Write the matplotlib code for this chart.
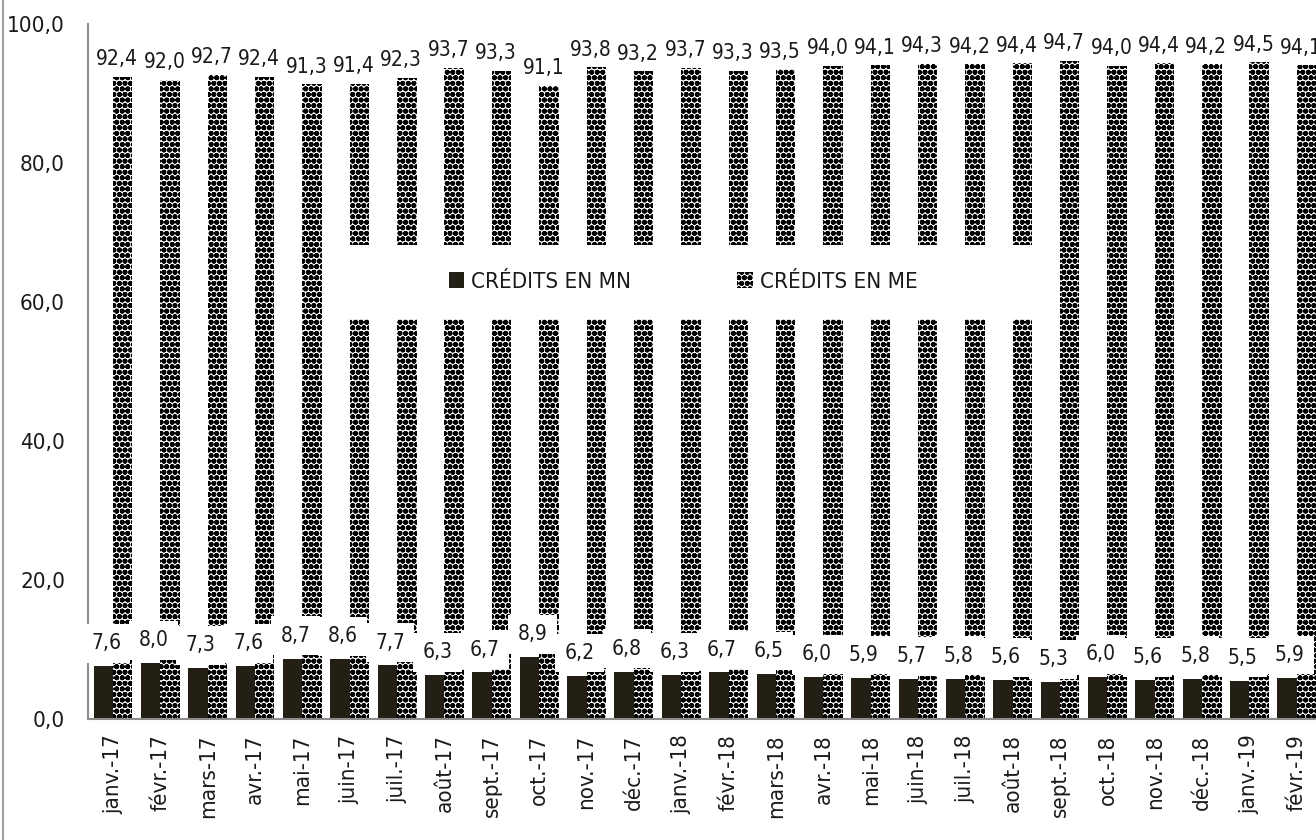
import matplotlib
matplotlib.use("Agg")
import matplotlib.pyplot as plt
from matplotlib.patches import Rectangle, Patch
from matplotlib.lines import Line2D
from matplotlib import font_manager as fm
import numpy as np
import os

months = ['janv.-17', 'févr.-17', 'mars-17', 'avr.-17', 'mai-17', 'juin-17', 'juil.-17',
          'août-17', 'sept.-17', 'oct.-17', 'nov.-17', 'déc.-17', 'janv.-18', 'févr.-18',
          'mars-18', 'avr.-18', 'mai-18', 'juin-18', 'juil.-18', 'août-18', 'sept.-18',
          'oct.-18', 'nov.-18', 'déc.-18', 'janv.-19', 'févr.-19']
credits_mn = [7.6, 8.0, 7.3, 7.6, 8.7, 8.6, 7.7, 6.3, 6.7, 8.9, 6.2, 6.8, 6.3, 6.7,
              6.5, 6.0, 5.9, 5.7, 5.8, 5.6, 5.3, 6.0, 5.6, 5.8, 5.5, 5.9]
credits_me = [92.4, 92.0, 92.7, 92.4, 91.3, 91.4, 92.3, 93.7, 93.3, 91.1, 93.8, 93.2, 93.7, 93.3,
              93.5, 94.0, 94.1, 94.3, 94.2, 94.4, 94.7, 94.0, 94.4, 94.2, 94.5, 94.1]
series_names = ['CRÉDITS EN MN', 'CRÉDITS EN ME']
y_ticks = [0, 20, 40, 60, 80, 100]

# pick a narrow / condensed sans font if one is installed
def pick_font():
    files = [f.fname for f in fm.fontManager.ttflist]
    prefs = ['LiberationSansNarrow-Regular', 'DejaVuSansCondensed.ttf',
             'RobotoCondensed-Regular', 'OpenSans_Condensed-Regular', 'OpenSansCondensed',
             'NotoSans-Condensed.ttf', 'NotoSansCondensed-Regular']
    for p in prefs:
        for fn in files:
            if p.lower() in os.path.basename(fn).lower():
                return fm.FontProperties(fname=fn), 16, 15
    for fn in files:
        b = os.path.basename(fn).lower()
        if ('narrow' in b or 'condensed' in b) and 'bold' not in b and 'italic' not in b \
                and 'oblique' not in b and 'light' not in b and 'thin' not in b \
                and 'black' not in b and 'medium' not in b and 'semi' not in b:
            return fm.FontProperties(fname=fn), 16, 15
    return fm.FontProperties(family=['Liberation Sans', 'DejaVu Sans']), 14, 13.5

base_fp, FS, FS_LAB = pick_font()

def fp(size=FS):
    p = base_fp.copy()
    p.set_size(size)
    return p

plt.rcParams['hatch.linewidth'] = 1.9

W, H = 1316, 840
fig = plt.figure(figsize=(W / 100, H / 100), dpi=100)

def fx(px):
    return px / W

def fy(py):
    return 1 - py / H

ax = fig.add_axes([fx(88), fy(719), fx(1320) - fx(88), fy(24) - fy(719)])

x = np.arange(len(months))
bw = 0.41
dark = '#231f14'
txt = '#1a1a1a'

ax.bar(x - bw / 2, credits_mn, width=bw, color=dark, zorder=2)
ax.bar(x + bw / 2, credits_me, width=bw, facecolor='white', edgecolor='black',
       linewidth=0, hatch='ooo', zorder=2)

ax.set_xlim(-0.528, 25.49)
ax.set_ylim(0, 100)

def fmt(v):
    return f"{v:.1f}".replace('.', ',')

for i, v in enumerate(credits_me):
    ax.annotate(fmt(v), (x[i] + bw / 2, v), xytext=(-4, 12.5), textcoords='offset points',
                ha='center', va='center', fontproperties=fp(FS_LAB), color=txt,
                bbox=dict(boxstyle='square,pad=0.2', facecolor='white', edgecolor='none'),
                zorder=6, annotation_clip=False)
for i, v in enumerate(credits_mn):
    ax.annotate(fmt(v), (x[i] - bw / 2, v), xytext=(2, 16.5), textcoords='offset points',
                ha='center', va='center', fontproperties=fp(FS_LAB), color=txt,
                bbox=dict(boxstyle='square,pad=0.45', facecolor='white', edgecolor='none'),
                zorder=6, annotation_clip=False)

ax.set_yticks(y_ticks)
ax.set_yticklabels([fmt(v) for v in y_ticks], color=txt)
ax.set_xticks(x)
ax.set_xticklabels(months, rotation=90, color=txt)
for lab in ax.get_yticklabels() + ax.get_xticklabels():
    lab.set_fontproperties(fp())
ax.tick_params(axis='y', length=0, pad=16.5)
ax.tick_params(axis='x', length=0, pad=11)

for s in ['top', 'right']:
    ax.spines[s].set_visible(False)
for s in ['left', 'bottom']:
    ax.spines[s].set_color('#8c8c8c')
    ax.spines[s].set_linewidth(1.5)
    ax.spines[s].set_zorder(3)

# legend background
bg = Rectangle((fx(330), fy(319)), fx(1045) - fx(330), fy(245) - fy(319),
               transform=fig.transFigure, facecolor='white', edgecolor='none', zorder=7)
fig.add_artist(bg)
handles = [Patch(facecolor=dark, edgecolor='none'),
           Patch(facecolor='white', edgecolor='black', linewidth=0, hatch='ooo')]
leg = fig.legend(handles, series_names, loc='center', ncol=2,
                 bbox_to_anchor=(fx(683), fy(282)), bbox_transform=fig.transFigure,
                 frameon=False, prop=fp(), handlelength=0.7, handleheight=0.7,
                 handletextpad=0.3, columnspacing=4.8, labelcolor=txt)
leg.set_zorder(8)

# left border of the figure
fig.add_artist(Line2D([fx(3), fx(3)], [0, 1], transform=fig.transFigure,
                      color='#a0a0a0', linewidth=1.5))

fig.savefig('out.png', dpi=100)
